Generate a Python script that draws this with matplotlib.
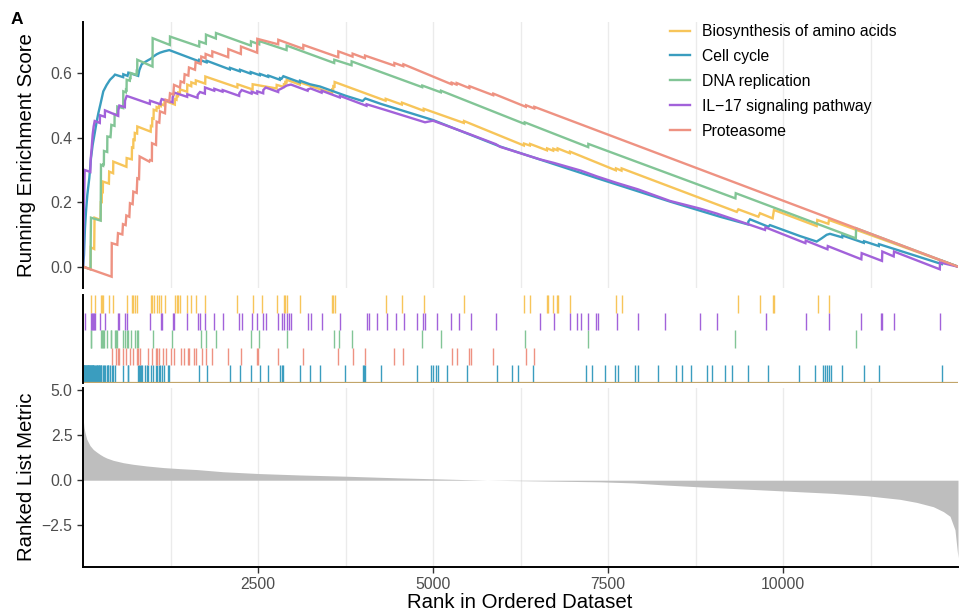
import matplotlib
matplotlib.use("Agg")
import matplotlib.pyplot as plt

plt.rcParams['font.family'] = ['Liberation Sans', 'DejaVu Sans']

set_names = ["Biosynthesis of amino acids", "Cell cycle", "DNA replication",
             "IL\u221217 signaling pathway", "Proteasome"]
set_colors = ["#F7C55A", "#3A9DBF", "#82C596", "#A262DA", "#EE9282"]

n_genes = 12500

# running enrichment score, vertices (rank, score)
es_biosynthesis = [
    (1, 0.0), (108, -0.008), (110, 0.06), (160, 0.055), (165, 0.152), (250, 0.145),
    (255, 0.20), (268, 0.20), (270, 0.235), (283, 0.233), (285, 0.264), (370, 0.258),
    (374, 0.295), (430, 0.29), (433, 0.326), (620, 0.31), (624, 0.337), (697, 0.333),
    (700, 0.37), (718, 0.369), (720, 0.394), (738, 0.393), (740, 0.415), (773, 0.413),
    (776, 0.435), (967, 0.419), (970, 0.437), (988, 0.436), (990, 0.46), (1008, 0.459),
    (1010, 0.487), (1050, 0.484), (1052, 0.495), (1084, 0.492), (1086, 0.50), (1112, 0.498),
    (1114, 0.505), (1162, 0.50), (1165, 0.515), (1312, 0.503), (1314, 0.52), (1336, 0.518),
    (1338, 0.53), (1358, 0.529), (1360, 0.54), (1384, 0.538), (1386, 0.55), (1488, 0.543),
    (1490, 0.565), (1546, 0.56), (1548, 0.572), (1610, 0.567), (1612, 0.578), (1746, 0.568),
    (1748, 0.59), (2205, 0.556), (2207, 0.566), (2422, 0.55), (2424, 0.566), (2765, 0.553),
    (2767, 0.564), (2868, 0.558), (2870, 0.566), (2888, 0.565), (2890, 0.573), (2908, 0.572),
    (2910, 0.58), (3098, 0.565), (3100, 0.572), (3558, 0.538), (3560, 0.55), (3574, 0.549),
    (3576, 0.56), (3593, 0.559), (3595, 0.573), (4322, 0.515), (4324, 0.521), (4555, 0.503),
    (4557, 0.509), (4865, 0.484), (4867, 0.49), (5441, 0.446), (5443, 0.452), (6298, 0.376),
    (6300, 0.382), (6384, 0.376), (6386, 0.381), (6628, 0.361), (6630, 0.367), (6717, 0.36),
    (6719, 0.366), (6779, 0.361), (6781, 0.367), (6955, 0.352), (6957, 0.357), (7612, 0.299),
    (7614, 0.305), (7693, 0.298), (7695, 0.305), (9340, 0.170), (9362, 0.178), (9648, 0.155),
    (9671, 0.166), (9852, 0.150), (9871, 0.176), (10481, 0.126), (10490, 0.145),
    (10648, 0.133), (10657, 0.145), (12500, 0.0)]

es_cell_cycle = [
    (1, 0.0), (14, 0.036), (28, 0.119), (43, 0.171), (62, 0.223), (90, 0.275), (114, 0.337),
    (138, 0.378), (171, 0.419), (195, 0.45), (219, 0.476), (252, 0.507), (290, 0.544),
    (338, 0.564), (386, 0.58), (433, 0.59), (457, 0.596), (574, 0.588), (576, 0.597),
    (636, 0.592), (648, 0.602), (788, 0.592), (805, 0.61), (838, 0.628), (886, 0.635),
    (933, 0.641), (967, 0.645), (1005, 0.652), (1052, 0.659), (1100, 0.664), (1157, 0.668),
    (1233, 0.672), (1660, 0.637), (1662, 0.642), (1765, 0.634), (1767, 0.639), (2098, 0.612),
    (2100, 0.617), (2241, 0.606), (2243, 0.611), (2393, 0.599), (2395, 0.604), (2527, 0.594),
    (2529, 0.598), (2646, 0.589), (2648, 0.593), (2812, 0.58), (2814, 0.585), (2836, 0.583),
    (2862, 0.591), (3098, 0.572), (3100, 0.577), (3243, 0.566), (3386, 0.559), (3757, 0.53),
    (3995, 0.514), (4033, 0.522), (4257, 0.505), (5000, 0.455), (5957, 0.373), (7338, 0.275),
    (8386, 0.202), (9100, 0.155), (9503, 0.131), (9505, 0.140), (9529, 0.147), (9790, 0.124),
    (9814, 0.129), (10243, 0.095), (10481, 0.078), (10552, 0.088), (10624, 0.099),
    (10671, 0.102), (10846, 0.091), (10848, 0.097), (11155, 0.074), (11157, 0.079),
    (11369, 0.064), (11371, 0.07), (12270, 0.008), (12276, 0.018), (12500, 0.0)]

es_dna_replication = [
    (1, 0.0), (108, -0.008), (110, 0.08), (114, 0.152), (252, 0.143), (257, 0.316),
    (288, 0.313), (290, 0.318), (298, 0.318), (300, 0.359), (346, 0.356), (348, 0.404),
    (393, 0.402), (395, 0.407), (405, 0.44), (450, 0.437), (452, 0.473), (488, 0.47),
    (490, 0.497), (574, 0.492), (576, 0.544), (612, 0.541), (614, 0.549), (622, 0.548),
    (624, 0.58), (669, 0.577), (671, 0.585), (679, 0.585), (681, 0.601), (765, 0.595),
    (767, 0.606), (774, 0.605), (776, 0.642), (993, 0.621), (995, 0.709), (1241, 0.688),
    (1243, 0.714), (1660, 0.683), (1662, 0.699), (1755, 0.692), (1757, 0.72), (1898, 0.708),
    (1900, 0.725), (2398, 0.686), (2400, 0.699), (2517, 0.69), (2519, 0.70), (2908, 0.672),
    (2910, 0.686), (3588, 0.632), (3590, 0.642), (3836, 0.625), (3838, 0.637), (4846, 0.557),
    (4848, 0.562), (5112, 0.541), (5114, 0.546), (6308, 0.443), (6310, 0.448), (7217, 0.371),
    (7219, 0.381), (9320, 0.212), (9325, 0.228), (11040, 0.088), (11045, 0.119),
    (12500, 0.0)]

es_il17 = [
    (1, 0.0), (5, 0.09), (24, 0.30), (105, 0.294), (109, 0.33), (124, 0.37), (138, 0.41),
    (152, 0.435), (167, 0.452), (240, 0.446), (243, 0.47), (312, 0.465), (314, 0.485),
    (503, 0.468), (505, 0.485), (519, 0.50), (598, 0.495), (600, 0.515), (624, 0.53),
    (955, 0.505), (957, 0.515), (1108, 0.504), (1110, 0.512), (1124, 0.52), (1279, 0.51),
    (1281, 0.525), (1305, 0.54), (1488, 0.527), (1490, 0.535), (1636, 0.524), (1638, 0.533),
    (1671, 0.542), (1741, 0.537), (1743, 0.556), (1874, 0.546), (1876, 0.552), (1993, 0.543),
    (1995, 0.548), (2231, 0.53), (2233, 0.538), (2267, 0.548), (2408, 0.537), (2410, 0.543),
    (2488, 0.537), (2490, 0.544), (2574, 0.538), (2576, 0.548), (2610, 0.556), (2788, 0.542),
    (2790, 0.548), (2838, 0.553), (2871, 0.557), (2910, 0.562), (2948, 0.564), (2971, 0.565),
    (3208, 0.546), (3210, 0.55), (3252, 0.553), (3408, 0.54), (3410, 0.546), (3669, 0.525),
    (3671, 0.53), (4050, 0.499), (4052, 0.504), (4338, 0.485), (4590, 0.468), (4886, 0.448),
    (5000, 0.453), (5538, 0.41), (5900, 0.38), (5957, 0.372), (6528, 0.333), (6728, 0.322),
    (7114, 0.298), (7343, 0.28), (7624, 0.26), (7928, 0.24), (8386, 0.204), (8819, 0.18),
    (9052, 0.165), (9743, 0.114), (9750, 0.122), (10320, 0.073), (10325, 0.081),
    (10635, 0.054), (10640, 0.064), (11119, 0.023), (11124, 0.042), (11414, 0.018),
    (11419, 0.047), (11581, 0.032), (11586, 0.047), (12240, -0.008), (12243, 0.013),
    (12500, 0.0)]

es_proteasome = [
    (1, 0.0), (409, -0.031), (411, 0.073), (490, 0.068), (500, 0.104), (562, 0.10),
    (571, 0.132), (609, 0.129), (619, 0.159), (662, 0.155), (671, 0.197), (709, 0.194),
    (719, 0.233), (767, 0.229), (776, 0.274), (800, 0.272), (809, 0.342), (947, 0.326),
    (957, 0.331), (984, 0.329), (986, 0.383), (1043, 0.378), (1052, 0.45), (1090, 0.447),
    (1100, 0.482), (1171, 0.476), (1181, 0.518), (1233, 0.514), (1243, 0.538), (1290, 0.534),
    (1300, 0.564), (1386, 0.556), (1395, 0.575), (1443, 0.571), (1452, 0.597), (1505, 0.593),
    (1514, 0.618), (1600, 0.611), (1609, 0.635), (1681, 0.629), (1690, 0.652), (1750, 0.647),
    (1752, 0.66), (1846, 0.652), (1848, 0.668), (2074, 0.65), (2076, 0.675), (2255, 0.66),
    (2257, 0.683), (2488, 0.664), (2490, 0.707), (2788, 0.69), (2790, 0.704), (3146, 0.676),
    (3148, 0.688), (3646, 0.65), (3648, 0.668), (3850, 0.652), (3852, 0.661), (4027, 0.647),
    (4029, 0.655), (4446, 0.624), (4448, 0.632), (4576, 0.622), (4578, 0.628), (5265, 0.566),
    (5267, 0.571), (5336, 0.565), (5338, 0.57), (5520, 0.554), (5522, 0.56), (5860, 0.532),
    (5862, 0.537), (6327, 0.496), (6329, 0.501), (6446, 0.491), (6448, 0.496), (12500, 0.0)]

es_curves = [es_biosynthesis, es_cell_cycle, es_dna_replication, es_il17, es_proteasome]

# gene set hits (rank positions) for the rug panel
hits_biosynthesis = [110, 165, 255, 270, 285, 374, 433, 624, 700, 720, 740, 776, 970, 990,
                     1010, 1052, 1086, 1114, 1165, 1314, 1338, 1360, 1386, 1490, 1548, 1612,
                     1748, 2207, 2424, 2562, 2767, 2870, 2890, 2910, 3100, 3560, 3576, 3595,
                     4324, 4557, 4867, 5443, 6300, 6386, 6630, 6645, 6719, 6770, 6790, 6957,
                     7614, 7695, 9362, 9671, 9850, 9870, 10495, 10657]
hits_cell_cycle = [3, 8, 14, 20, 26, 33, 40, 46, 52, 58, 65, 71, 78, 84, 90, 97, 103, 109,
                   116, 122, 129, 136, 143, 148, 160, 171, 186, 196, 205, 215, 224, 235, 243,
                   252, 262, 281, 295, 314, 338, 350, 362, 386, 409, 433, 457, 576, 638, 648,
                   790, 805, 815, 824, 838, 886, 910, 933, 967, 1005, 1043, 1052, 1086, 1100,
                   1124, 1157, 1219, 1233, 1662, 1767, 2100, 2243, 2395, 2529, 2648, 2814,
                   2838, 2862, 3100, 3243, 3386, 3743, 3995, 4014, 4033, 4257, 4767, 4971,
                   5005, 5038, 5076, 5205, 5481, 5910, 6124, 6219, 6433, 7186, 7276, 7457,
                   7600, 7638, 7886, 7924, 8214, 8467, 8557, 8686, 8919, 8986, 9171, 9271,
                   9505, 9790, 10233, 10457, 10567, 10595, 10624, 10652, 10681, 10848, 11157,
                   11371, 12276]
hits_dna_replication = [109, 114, 257, 270, 290, 300, 348, 395, 405, 452, 471, 490, 576, 600,
                        624, 648, 681, 743, 776, 790, 995, 1267, 1681, 1757, 1900, 2400, 2519,
                        2910, 3590, 3662, 3838, 4848, 5114, 6310, 7219, 9320, 11043]
hits_il17 = [24, 109, 124, 138, 152, 167, 243, 314, 505, 519, 600, 624, 957, 1110, 1124,
             1281, 1305, 1490, 1638, 1671, 1743, 1876, 1995, 2233, 2267, 2410, 2490, 2576,
             2610, 2790, 2838, 2871, 2910, 2948, 2971, 3210, 3252, 3410, 3671, 4052, 4090,
             4205, 4338, 4467, 4590, 4776, 4852, 4886, 5052, 5252, 5376, 5538, 5900, 6528,
             6728, 6962, 7057, 7114, 7214, 7335, 7350, 7624, 7928, 8319, 8819, 9052, 9752,
             10329, 10657, 11114, 11400, 11415, 11581, 12243]
hits_proteasome = [409, 471, 500, 519, 576, 614, 671, 719, 776, 790, 809, 933, 986, 1038,
                   1052, 1086, 1148, 1181, 1252, 1305, 1395, 1443, 1495, 1514, 1590, 1609,
                   1695, 1752, 1848, 2076, 2257, 2490, 2505, 2790, 3148, 3648, 3852, 4029,
                   4448, 4576, 5267, 5338, 5520, 5545, 5862, 6329, 6448]

hit_lists = [hits_biosynthesis, hits_cell_cycle, hits_dna_replication, hits_il17, hits_proteasome]
# rug row of each set, counted from the bottom
rug_rows = [4, 0, 2, 3, 1]

# ranked list metric, read along the edge of the grey area
metric_rank = [1, 5, 14, 28, 52, 100, 148, 195, 243, 290, 338, 433, 576, 719, 909, 1148,
               1386, 1624, 2000, 2505, 3100, 3767, 4500, 5200, 5770, 6500, 7386, 7862, 8338,
               8814, 9291, 9767, 10243, 10719, 11196, 11672, 11910, 12148, 12291, 12386,
               12457, 12500]
metric_value = [4.0, 3.3, 2.93, 2.65, 2.29, 1.92, 1.70, 1.56, 1.43, 1.32, 1.23, 1.10, 0.97,
                0.88, 0.79, 0.70, 0.64, 0.59, 0.47, 0.37, 0.29, 0.22, 0.13, 0.06, 0.0, -0.04,
                -0.09, -0.15, -0.27, -0.37, -0.46, -0.55, -0.64, -0.73, -0.86, -1.06, -1.23,
                -1.47, -1.74, -2.0, -2.75, -4.3]

W, H = 959, 614
fig = plt.figure(figsize=(W / 100, H / 100), dpi=100)


def box(top, bottom, left=83, right=958):
    return [left / W, 1 - bottom / H, (right - left) / W, (bottom - top) / H]


ax1 = fig.add_axes(box(22, 288))
ax2 = fig.add_axes(box(295, 383))
ax3 = fig.add_axes(box(388, 567))

tick_color = '#4D4D4D'
grid_color = '#EBEBEB'
major_x = [2500, 5000, 7500, 10000]
minor_x = [1250, 3750, 6250, 8750, 11250]

for ax in (ax1, ax2, ax3):
    ax.set_xlim(0, n_genes)
    ax.spines['top'].set_visible(False)
    ax.spines['right'].set_visible(False)
    ax.spines['left'].set_linewidth(1.4)
    ax.spines['bottom'].set_linewidth(1.4)
    ax.tick_params(axis='both', colors='#333333', labelcolor=tick_color, labelsize=11.3,
                   width=1.0, length=4, pad=3.5)

# top: running enrichment score
for name, color, pts in zip(set_names, set_colors, es_curves):
    ax1.plot([p[0] for p in pts], [p[1] for p in pts], color=color, lw=1.7, label=name,
             solid_joinstyle='miter')
ax1.set_ylim(-0.0661, 0.7592)
ax1.set_yticks([0.0, 0.2, 0.4, 0.6])
ax1.set_yticklabels(['0.0', '0.2', '0.4', '0.6'])
ax1.set_xticks(major_x)
ax1.set_xticks(minor_x, minor=True)
ax1.tick_params(axis='x', which='both', length=0, labelbottom=False)
ax1.spines['bottom'].set_visible(False)
ax1.grid(axis='x', which='both', color=grid_color, lw=1.0)
ax1.set_axisbelow(True)
ax1.legend(loc='upper left', bbox_to_anchor=(670 / W, 1 - 24 / H),
           bbox_transform=fig.transFigure, frameon=False, fontsize=11.3,
           handlelength=1.25, handletextpad=0.8, labelspacing=0.63,
           borderpad=0, borderaxespad=0)

# middle: hit positions
for color, hits, row in zip(set_colors, hit_lists, rug_rows):
    ax2.vlines(hits, row, row + 1, colors=color, lw=1.0)
ax2.axhline(0, color='#C2A56A', lw=1.6)
ax2.set_ylim(0, 5)
ax2.set_xticks([])
ax2.set_yticks([])
ax2.spines['bottom'].set_visible(False)

# bottom: ranked list metric
ax3.fill_between(metric_rank, metric_value, 0, color='#BEBEBE', lw=0)
ax3.set_ylim(-4.81, 5.11)
ax3.set_yticks([-2.5, 0.0, 2.5, 5.0])
ax3.set_yticklabels(['\u22122.5', '0.0', '2.5', '5.0'])
ax3.set_xticks(major_x)
ax3.set_xticklabels([str(v) for v in major_x])
ax3.set_xticks(minor_x, minor=True)
ax3.tick_params(axis='x', which='minor', length=0)
ax3.grid(axis='x', which='both', color=grid_color, lw=1.0)
ax3.set_axisbelow(True)

fig.text(27 / W, 1 - 155 / H, 'Running Enrichment Score', rotation=90, ha='center',
         va='center', fontsize=14.7)
fig.text(27 / W, 1 - 477 / H, 'Ranked List Metric', rotation=90, ha='center',
         va='center', fontsize=14.7)
fig.text(520 / W, 1 - 603 / H, 'Rank in Ordered Dataset', ha='center', va='center',
         fontsize=14.7)
fig.text(17 / W, 1 - 19 / H, 'A', ha='center', va='center', fontsize=12.5,
         fontweight='bold')

fig.savefig('out.png', dpi=100)
